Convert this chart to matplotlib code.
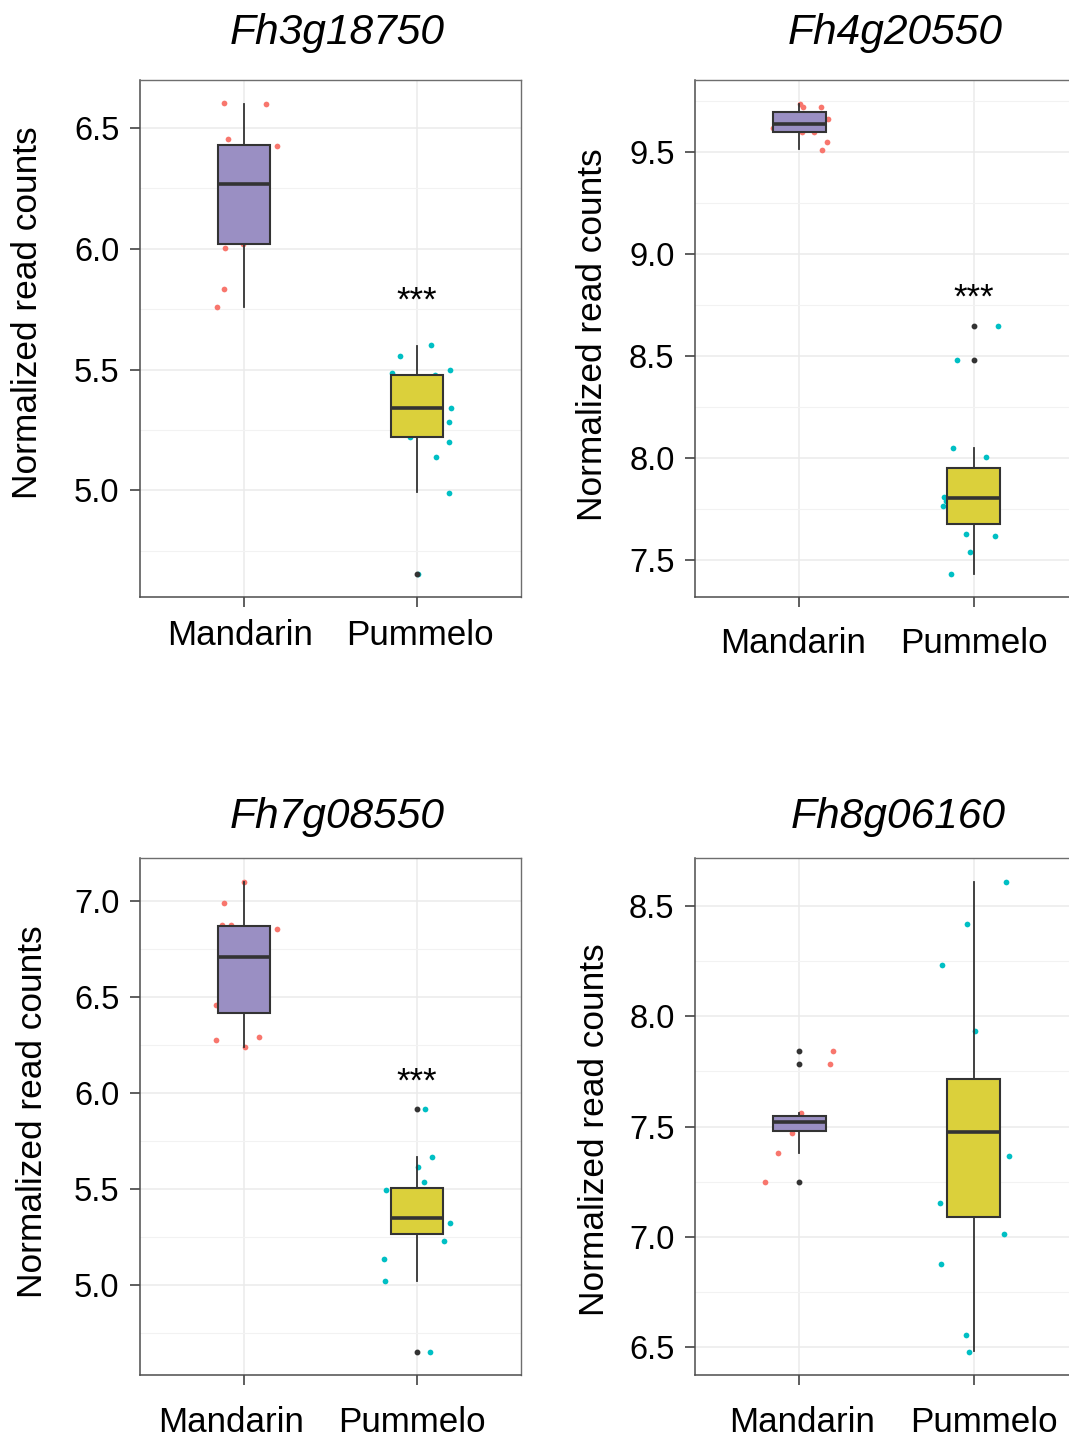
import matplotlib
matplotlib.use("Agg")
import matplotlib.pyplot as plt
import matplotlib.transforms as mtransforms
from matplotlib.ticker import MultipleLocator, FormatStrFormatter, FixedLocator

plt.rcParams["font.family"] = ["Liberation Sans", "DejaVu Sans"]

W, H = 1069, 1436

GROUPS = ["Mandarin", "Pummelo"]
GENES = ["Fh3g18750", "Fh4g20550", "Fh7g08550", "Fh8g06160"]

# normalized read counts per sample
fh3_man = [6.602, 6.601, 6.457, 6.424, 6.004, 6.020, 5.833, 5.758]
fh3_pum = [5.601, 5.558, 5.486, 5.478, 5.496, 5.339, 5.283, 5.219, 5.198, 5.137, 4.988, 4.655]
fh4_man = [9.739, 9.724, 9.724, 9.662, 9.619, 9.600, 9.597, 9.552, 9.513]
fh4_pum = [8.646, 8.484, 8.050, 8.006, 7.809, 7.788, 7.765, 7.627, 7.621, 7.539, 7.435]
fh7_man = [7.104, 6.993, 6.877, 6.877, 6.858, 6.462, 6.280, 6.295, 6.240]
fh7_pum = [5.918, 5.670, 5.618, 5.540, 5.496, 5.327, 5.234, 5.137, 5.022, 4.656]
fh8_man = [7.841, 7.782, 7.563, 7.469, 7.381, 7.247]
fh8_pum = [8.612, 8.417, 8.234, 7.933, 7.367, 7.154, 7.014, 6.876, 6.554, 6.479]

# horizontal jitter of the sample points
fh3_man_jit = [-0.114, 0.125, -0.094, 0.192, -0.110, -0.006, -0.114, -0.156]
fh3_pum_jit = [0.079, -0.096, -0.143, 0.106, 0.192, 0.195, 0.187, -0.040, 0.183, 0.108, 0.185, 0.008]
fh4_man_jit = [0.002, 0.022, 0.126, 0.163, -0.152, 0.012, 0.081, 0.158, 0.132]
fh4_pum_jit = [0.140, -0.093, -0.118, 0.069, -0.171, -0.161, -0.175, -0.041, 0.124, -0.019, -0.132]
fh7_man_jit = [0.002, -0.117, -0.129, -0.077, 0.192, -0.163, -0.163, 0.085, 0.004]
fh7_pum_jit = [0.044, 0.088, 0.006, 0.040, -0.177, 0.192, 0.156, -0.189, -0.186, 0.073]
fh8_man_jit = [0.193, 0.175, 0.008, -0.040, -0.124, -0.196]
fh8_pum_jit = [0.184, -0.040, -0.183, 0.010, 0.203, -0.193, 0.173, -0.185, -0.043, -0.025]

# boxplot summaries: lower whisker, Q1, median, Q3, upper whisker
fh3_man_box = [5.760, 6.019, 6.269, 6.432, 6.599]
fh3_pum_box = [4.991, 5.219, 5.339, 5.477, 5.598]
fh4_man_box = [9.515, 9.600, 9.637, 9.695, 9.735]
fh4_pum_box = [7.435, 7.680, 7.807, 7.951, 8.049]
fh7_man_box = [6.240, 6.420, 6.712, 6.873, 7.104]
fh7_pum_box = [5.022, 5.269, 5.349, 5.509, 5.670]
fh8_man_box = [7.381, 7.480, 7.522, 7.548, 7.560]
fh8_pum_box = [6.480, 7.088, 7.474, 7.714, 8.609]

# outliers flagged by the boxplot
fh3_man_out, fh3_pum_out = [], [4.655]
fh4_man_out, fh4_pum_out = [], [8.646, 8.484]
fh7_man_out, fh7_pum_out = [], [5.918, 4.656]
fh8_man_out, fh8_pum_out = [7.841, 7.782, 7.247], []

# height of the "***" marks (None = not significant)
sig_y = [5.745, 8.740, 6.010, None]

POINT_COLORS = ["#F8766D", "#00BFC4"]
BOX_COLORS = ["#9A8FC3", "#DBD03B"]
GRID = "#EBEBEB"

panels = [
    (fh3_man, fh3_pum, fh3_man_jit, fh3_pum_jit, fh3_man_box, fh3_pum_box, fh3_man_out, fh3_pum_out),
    (fh4_man, fh4_pum, fh4_man_jit, fh4_pum_jit, fh4_man_box, fh4_pum_box, fh4_man_out, fh4_pum_out),
    (fh7_man, fh7_pum, fh7_man_jit, fh7_pum_jit, fh7_man_box, fh7_pum_box, fh7_man_out, fh7_pum_out),
    (fh8_man, fh8_pum, fh8_man_jit, fh8_pum_jit, fh8_man_box, fh8_pum_box, fh8_man_out, fh8_pum_out),
]

# axes boxes in pixels: left, top, right, bottom (right column runs off the page)
boxes = [(140, 80, 521, 597), (695, 80, 1078, 597),
         (140, 858, 521, 1375), (695, 858, 1078, 1375)]
title_pos = [(337, 44), (895, 44), (337, 828), (898, 828)]
ylab_pos = [(28, 313), (592, 335), (33, 1112), (594, 1130)]
xtick_pad = [8.6, 14.4, 15.0, 15.0]
xtick_shift = [(-4, 3), (-6, 0), (-13, -5), (3, 10)]

fig = plt.figure(figsize=(W / 100, H / 100), dpi=100)

for i, (man, pum, mj, pj, mb, pb, mo, po) in enumerate(panels):
    l, t, r, b = boxes[i]
    ax = fig.add_axes([l / W, 1 - b / H, (r - l) / W, (b - t) / H])

    # jittered samples under the boxes
    for k, (vals, jit) in enumerate([(man, mj), (pum, pj)]):
        ax.scatter([k + 1 + j for j in jit], vals, s=17, color=POINT_COLORS[k],
                   linewidths=0, zorder=2)

    stats = []
    for k, (bx, out) in enumerate([(mb, mo), (pb, po)]):
        stats.append(dict(whislo=bx[0], q1=bx[1], med=bx[2], q3=bx[3], whishi=bx[4],
                          fliers=out, label=GROUPS[k]))
    art = ax.bxp(stats, positions=[1, 2], widths=0.3, patch_artist=True, showcaps=False,
                 boxprops=dict(edgecolor="#333333", linewidth=1.5),
                 medianprops=dict(color="#333333", linewidth=2.6, solid_capstyle="butt"),
                 whiskerprops=dict(color="#333333", linewidth=1.3),
                 flierprops=dict(marker="o", markersize=3.2, markerfacecolor="#333333",
                                 markeredgecolor="#333333"),
                 zorder=3)
    for patch, c in zip(art["boxes"], BOX_COLORS):
        patch.set_facecolor(c)

    allv = man + pum + mb + pb + mo + po
    lo, hi = min(allv), max(allv)
    rng = hi - lo
    ax.set_ylim(lo - 0.05 * rng, hi + 0.05 * rng)
    ax.set_xlim(0.4, 2.6)

    ax.xaxis.set_major_locator(FixedLocator([1, 2]))
    ax.set_xticklabels(GROUPS)
    ax.yaxis.set_major_locator(MultipleLocator(0.5))
    ax.yaxis.set_minor_locator(MultipleLocator(0.25))
    ax.yaxis.set_major_formatter(FormatStrFormatter("%.1f"))

    ax.grid(True, which="major", color=GRID, linewidth=1.1, zorder=0)
    ax.grid(True, which="minor", axis="y", color="#F2F2F2", linewidth=0.8, zorder=0)
    ax.set_axisbelow(True)

    ax.tick_params(axis="both", which="major", length=7.2, width=1.1, color="#333333",
                   direction="out")
    ax.tick_params(axis="y", which="major", labelsize=23.5, pad=7.5)
    ax.tick_params(axis="x", which="major", labelsize=25.2, pad=xtick_pad[i])
    ax.tick_params(axis="y", which="minor", length=0)
    for side in ["top", "right"]:
        ax.spines[side].set_color("#6E6E6E")
        ax.spines[side].set_linewidth(1.0)
    for side in ["left", "bottom"]:
        ax.spines[side].set_color("#4D4D4D")
        ax.spines[side].set_linewidth(1.1)

    for lbl, dx in zip(ax.get_xticklabels(), xtick_shift[i]):
        lbl.set_transform(lbl.get_transform()
                          + mtransforms.ScaledTranslation(dx / 100, 0, fig.dpi_scale_trans))

    if sig_y[i] is not None:
        ax.text(2, sig_y[i], "***", ha="center", va="baseline", fontsize=25, zorder=4)

    tx, ty = title_pos[i]
    fig.text(tx / W, 1 - ty / H, GENES[i], ha="center", va="baseline",
             fontsize=30.6, style="italic")
    lx, ly = ylab_pos[i]
    fig.text(lx / W, 1 - ly / H, "Normalized read counts", rotation=90,
             ha="center", va="center", fontsize=25.4)

fig.savefig("out.png", dpi=100)
